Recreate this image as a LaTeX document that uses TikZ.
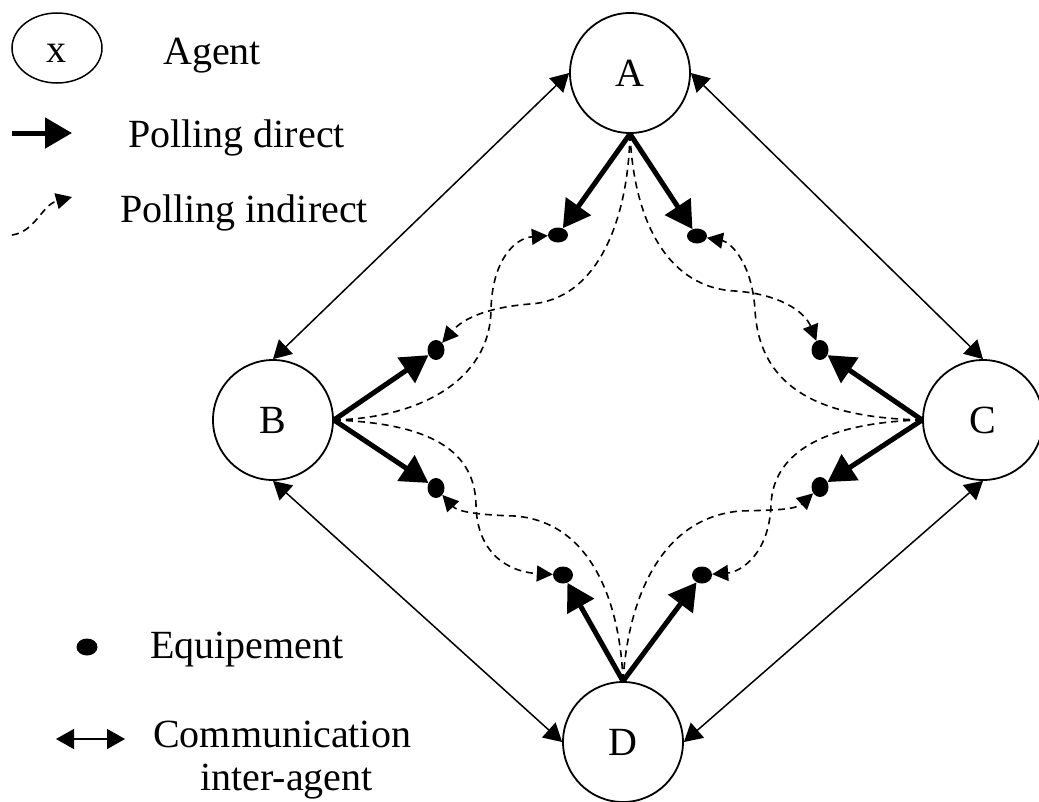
\documentclass[tikz,border=0pt]{standalone}
\usepackage{fontspec}
\setmainfont{Liberation Serif}
\usetikzlibrary{arrows.meta,shapes.geometric}

\tikzset{
  agent/.style={circle, draw, line width=1.8pt, minimum size=120pt, inner sep=0pt},
  equip/.style={ellipse, fill=black, inner sep=0pt},
  equiph/.style={equip, minimum width=20pt, minimum height=15pt},
  equipv/.style={equip, minimum width=17pt, minimum height=20pt},
  equipd/.style={equip, minimum width=20pt, minimum height=17pt},
  direct/.style={line width=5pt, -{Triangle[length=27pt,width=30pt]}},
  indirect/.style={line width=1.6pt, dash pattern=on 7pt off 5pt, -{Triangle[length=16pt,width=16pt]}},
  comm/.style={line width=1.5pt, {Triangle[length=18pt,width=20pt]}-{Triangle[length=18pt,width=20pt]}},
  legtext/.style={anchor=base west, inner sep=0pt},
}

\begin{document}
\begin{tikzpicture}[x=1pt, y=-1pt, font=\fontsize{40}{48}\selectfont]
\useasboundingbox (0,0) rectangle (1039,801);

% agents
\node[agent] (A) at (630,73)  {A};
\node[agent] (B) at (273,420) {B};
\node[agent] (C) at (983,420) {C};
\node[agent] (D) at (623,742) {D};

% equipment
\node[equiph] (e1) at (558,235) {};
\node[equiph] (e2) at (697,236) {};
\node[equipv] (e3) at (436,350) {};
\node[equipv] (e4) at (436,488) {};
\node[equipv] (e5) at (820,350) {};
\node[equipv] (e6) at (820,487) {};
\node[equipd] (e7) at (563,575) {};
\node[equipd] (e8) at (702,575) {};

% inter-agent communication
\draw[comm] (A.west) -- (B.north);
\draw[comm] (A.east) -- (C.north);
\draw[comm] (B.south) -- (D.west);
\draw[comm] (C.south) -- (D.east);

% direct polling
\draw[direct] (A.south) -- (e1);
\draw[direct] (A.south) -- (e2);
\draw[direct] (B.east) -- (e3);
\draw[direct] (B.east) -- (e4);
\draw[direct] (C.west) -- (e5);
\draw[direct] (C.west) -- (e6);
\draw[direct] (D.north) -- (e7);
\draw[direct] (D.north) -- (e8);

% indirect polling
\draw[indirect] (A.south) .. controls (628,225) and (595,300) .. (530,304)
                .. controls (480,308) and (460,322) .. (e3);
\draw[indirect] (A.south) .. controls (634,225) and (670,288) .. (735,291)
                .. controls (780,294) and (805,312) .. (e5);
\draw[indirect] (B.east) .. controls (420,418) and (490,380) .. (491,310)
                .. controls (492,260) and (515,238) .. (e1);
\draw[indirect] (B.east) .. controls (420,423) and (475,445) .. (476,505)
                .. controls (477,555) and (510,572) .. (e7);
\draw[indirect] (C.west) .. controls (840,418) and (760,400) .. (755,310)
                .. controls (752,262) and (730,242) .. (e2);
\draw[indirect] (C.west) .. controls (840,422) and (773,445) .. (771,505)
                .. controls (769,555) and (740,572) .. (e8);
\draw[indirect] (D.north) .. controls (620,600) and (590,522) .. (515,516)
                .. controls (480,515) and (458,512) .. (e4);
\draw[indirect] (D.north) .. controls (628,600) and (660,518) .. (740,511)
                .. controls (775,510) and (795,510) .. (e6);

% legend
\node[ellipse, draw, line width=1.5pt, minimum width=90pt, minimum height=70pt, inner sep=0pt] (lagent) at (57,48) {};
\node[inner sep=0pt] (lx) at (56,53) {x};
\node[legtext] (tagent) at (163,64) {Agent};

\coordinate (ld1) at (12,133);
\coordinate (ld2) at (72,133);
\draw[direct] (ld1) -- (ld2);
\node[legtext] (tdirect) at (128,147) {Polling direct};

\coordinate (li1) at (12,235);
\coordinate (li2) at (72,197);
\draw[indirect] (li1) .. controls (35,232) and (42,205) .. (li2);
\node[legtext] (tindirect) at (120,222) {Polling indirect};

\node[equipd, minimum width=21pt] (lequip) at (87,647) {};
\node[legtext] (tequip) at (150,658) {Equipement};

\coordinate (lc1) at (56,739);
\coordinate (lc2) at (125,739);
\draw[comm] (lc1) -- (lc2);
\node[legtext] (tcomm1) at (153,747) {Communication};
\node[legtext] (tcomm2) at (200,790) {inter-agent};
\end{tikzpicture}
\end{document}
